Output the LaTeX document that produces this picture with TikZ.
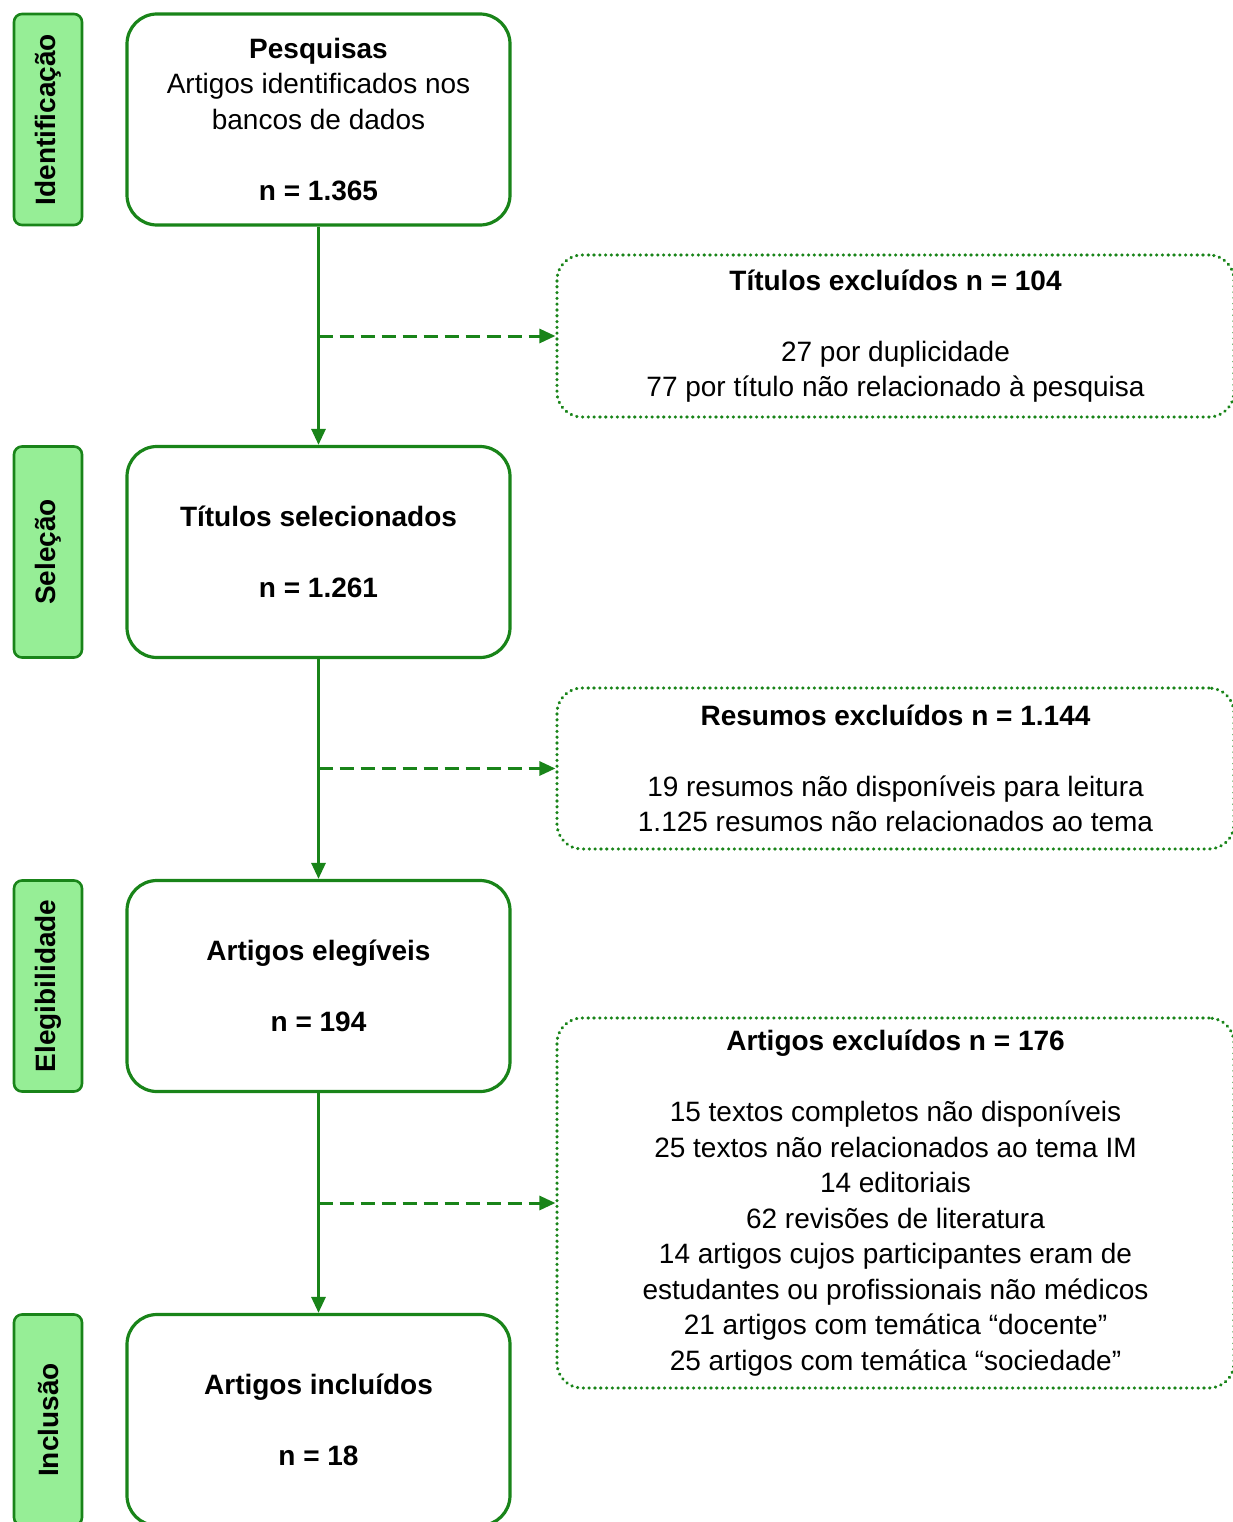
\documentclass[tikz,border=0pt]{standalone}
\usepackage{fontspec}
\setmainfont{Liberation Sans}
\usetikzlibrary{arrows.meta,calc}
\definecolor{gline}{RGB}{25,132,25}
\definecolor{gfill}{RGB}{150,238,150}
\newcommand\txtsz{\fontsize{28}{35.5}\selectfont}
\begin{document}
\begin{tikzpicture}[x=1pt,y=-1pt,
  mainbox/.style={draw=gline, line width=3.2pt, rounded corners=30pt, minimum width=383pt, minimum height=211pt, align=center, font=\txtsz, inner sep=0pt},
  sidebox/.style={draw=gline, fill=gfill, line width=2.6pt, rounded corners=8pt, rotate=90, minimum width=211pt, minimum height=68pt, font=\txtsz\bfseries, inner sep=0pt},
  exclbox/.style={draw=gline, line width=3.2pt, dash pattern=on 0.4pt off 5.4pt, line cap=round, rounded corners=25pt, minimum width=677pt, align=center, font=\txtsz, inner sep=0pt},
  vline/.style={draw=gline, line width=3pt, -{Triangle[length=16pt,width=14pt]}},
  dline/.style={draw=gline, line width=3pt, dash pattern=on 14pt off 7pt, -{Triangle[length=16pt,width=14pt]}}
]
\useasboundingbox (0,0) rectangle (1233,1522);
\clip (0,0) rectangle (1233,1522);

% side labels
\node[sidebox] (s1) at (48,119.5) {Identificação};
\node[sidebox] (s2) at (48,552) {Seleção};
\node[sidebox] (s3) at (48,986) {Elegibilidade};
\node[sidebox] (s4) at (48,1420) {Inclusão};

% main boxes
\node[mainbox] (b1) at (318.5,119.5) {\textbf{Pesquisas}\\Artigos identificados nos\\bancos de dados\\[35.5pt]\textbf{n = 1.365}};
\node[mainbox] (b2) at (318.5,552) {\textbf{Títulos selecionados}\\[35.5pt]\textbf{n = 1.261}};
\node[mainbox] (b3) at (318.5,986) {\textbf{Artigos elegíveis}\\[35.5pt]\textbf{n = 194}};
\node[mainbox] (b4) at (318.5,1420) {\textbf{Artigos incluídos}\\[35.5pt]\textbf{n = 18}};

% exclusion boxes
\node[exclbox, minimum height=162pt] (d1) at (895.5,336) {\textbf{Títulos excluídos n = 104}\\[35.5pt]27 por duplicidade\\77 por título não relacionado à pesquisa};
\node[exclbox, minimum height=161pt] (d2) at (895.5,768.5) {\textbf{Resumos excluídos n = 1.144}\\[35.5pt]19 resumos não disponíveis para leitura\\1.125 resumos não relacionados ao tema};
\node[exclbox, minimum height=370pt] (d3) at (895.5,1203) {\textbf{Artigos excluídos n = 176}\\[35.5pt]15 textos completos não disponíveis\\25 textos não relacionados ao tema IM\\14 editoriais\\62 revisões de literatura\\14 artigos cujos participantes eram de\\estudantes ou profissionais não médicos\\21 artigos com temática “docente”\\25 artigos com temática “sociedade”};

% connectors
\draw[vline] (b1) -- (b2);
\draw[vline] (b2) -- (b3);
\draw[vline] (b3) -- (b4);
\coordinate (c1) at (b1.south |- d1.west);
\coordinate (c2) at (b2.south |- d2.west);
\coordinate (c3) at (b3.south |- d3.west);
\draw[dline] (c1) -- (d1.west);
\draw[dline] (c2) -- (d2.west);
\draw[dline] (c3) -- (d3.west);
\end{tikzpicture}
\end{document}
